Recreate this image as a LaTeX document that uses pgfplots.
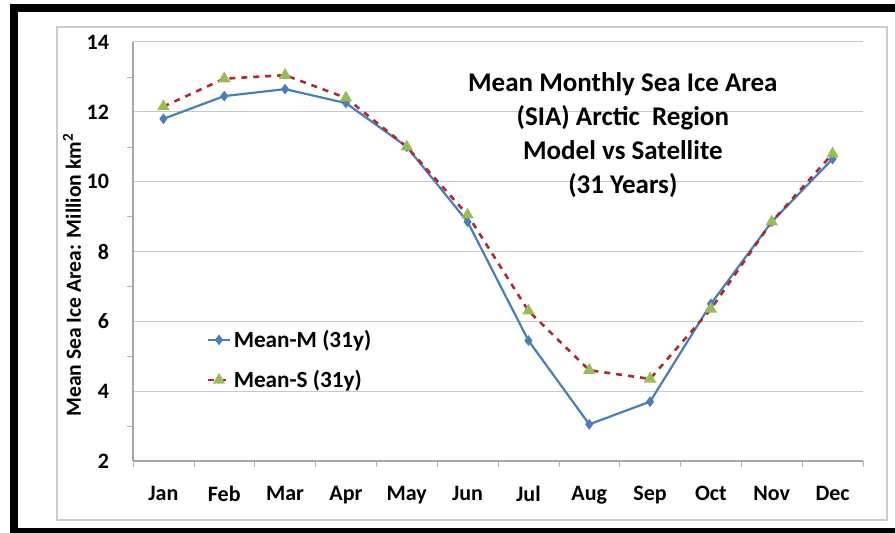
\documentclass[border=0pt]{standalone}
\usepackage{pgfplots}
\pgfplotsset{compat=1.18}
\usepackage{fontspec}
\setmainfont{Carlito}

\definecolor{mblue}{RGB}{74,126,187}
\definecolor{sred}{RGB}{175,40,55}
\definecolor{sgreen}{RGB}{155,187,89}
\definecolor{gridgray}{RGB}{200,200,200}

\begin{document}
\begin{tikzpicture}
\useasboundingbox (-66.5pt,-36pt) rectangle (381pt,230.5pt);
% outer frame
\fill[black] (-61.5pt,224.5pt) rectangle (381pt,228.5pt);
\fill[black] (-61.5pt,-36pt) rectangle (-57.5pt,228.5pt);
\fill[black] (-61.5pt,-36pt) rectangle (381pt,-33.5pt);
\draw[gray!40, line width=0.6pt] (-38pt,-29.5pt) rectangle (377pt,217pt);

\begin{axis}[
    at={(0,0)}, anchor=south west,
    scale only axis,
    width=365pt,
    height=209.5pt,
    xmin=-0.5, xmax=11.5,
    ymin=2, ymax=14,
    xtick={0,...,11},
    xticklabels={Jan,Feb,Mar,Apr,May,Jun,Jul,Aug,Sep,Oct,Nov,Dec},
    minor xtick={-0.5,0.5,...,11.5},
    ytick={2,4,...,14},
    minor ytick={3,5,...,13},
    axis lines=left,
    axis line style={-, gray!70, line width=0.6pt},
    tick align=outside,
    major tick length=0pt,
    minor tick length=3pt,
    minor tick style={gray!60},
    ymajorgrids=true,
    grid style={gridgray, line width=0.5pt},
    /pgf/number format/assume math mode=true,
    xticklabel style={font=\bfseries\fontsize{11}{12}\selectfont, yshift=-9pt},
    yticklabel style={font=\bfseries\fontsize{11}{12}\selectfont, xshift=-8.5pt},
    ylabel={Mean Sea Ice Area: Million km\textsuperscript{2}},
    ylabel style={at={(axis description cs:-0.0835,0.444)}, anchor=center,
                  font=\bfseries\fontsize{10.8}{12}\selectfont},
    legend style={draw=none, fill=none, at={(0.1,0.241)}, anchor=west,
                  inner sep=0pt, column sep=0pt, row sep=8pt,
                  nodes={inner sep=1pt},
                  font=\bfseries\fontsize{11.6}{13}\selectfont},
    legend cell align=left,
    legend image code/.code={%
        \draw[mark repeat=2, mark phase=2, #1]
            plot coordinates {(0cm,0cm) (0.2cm,0cm) (0.4cm,0cm)};},
]
\addplot[mblue, line width=1.1pt, mark=diamond*, mark size=1.8pt,
         mark options={fill=mblue, draw=mblue}] coordinates {
    (0,11.8) (1,12.45) (2,12.65) (3,12.25) (4,11.0) (5,8.85)
    (6,5.45) (7,3.05) (8,3.7) (9,6.5) (10,8.85) (11,10.65)
};
\addlegendentry{Mean-M (31y)}
\addplot[sred, line width=1.3pt, dashed, mark=triangle*, mark size=2.3pt,
         mark options={solid, fill=sgreen, draw=sgreen}] coordinates {
    (0,12.15) (1,12.95) (2,13.05) (3,12.4) (4,11.0) (5,9.05)
    (6,6.3) (7,4.6) (8,4.35) (9,6.35) (10,8.85) (11,10.8)
};
\addlegendentry{Mean-S (31y)}
\node[align=center, font=\bfseries\fontsize{13.5}{17}\selectfont]
    at (rel axis cs:0.671,0.777)
    {Mean Monthly Sea Ice Area\\(SIA) Arctic\ \ Region\\Model vs Satellite\\(31 Years)};
\end{axis}
\end{tikzpicture}
\end{document}
